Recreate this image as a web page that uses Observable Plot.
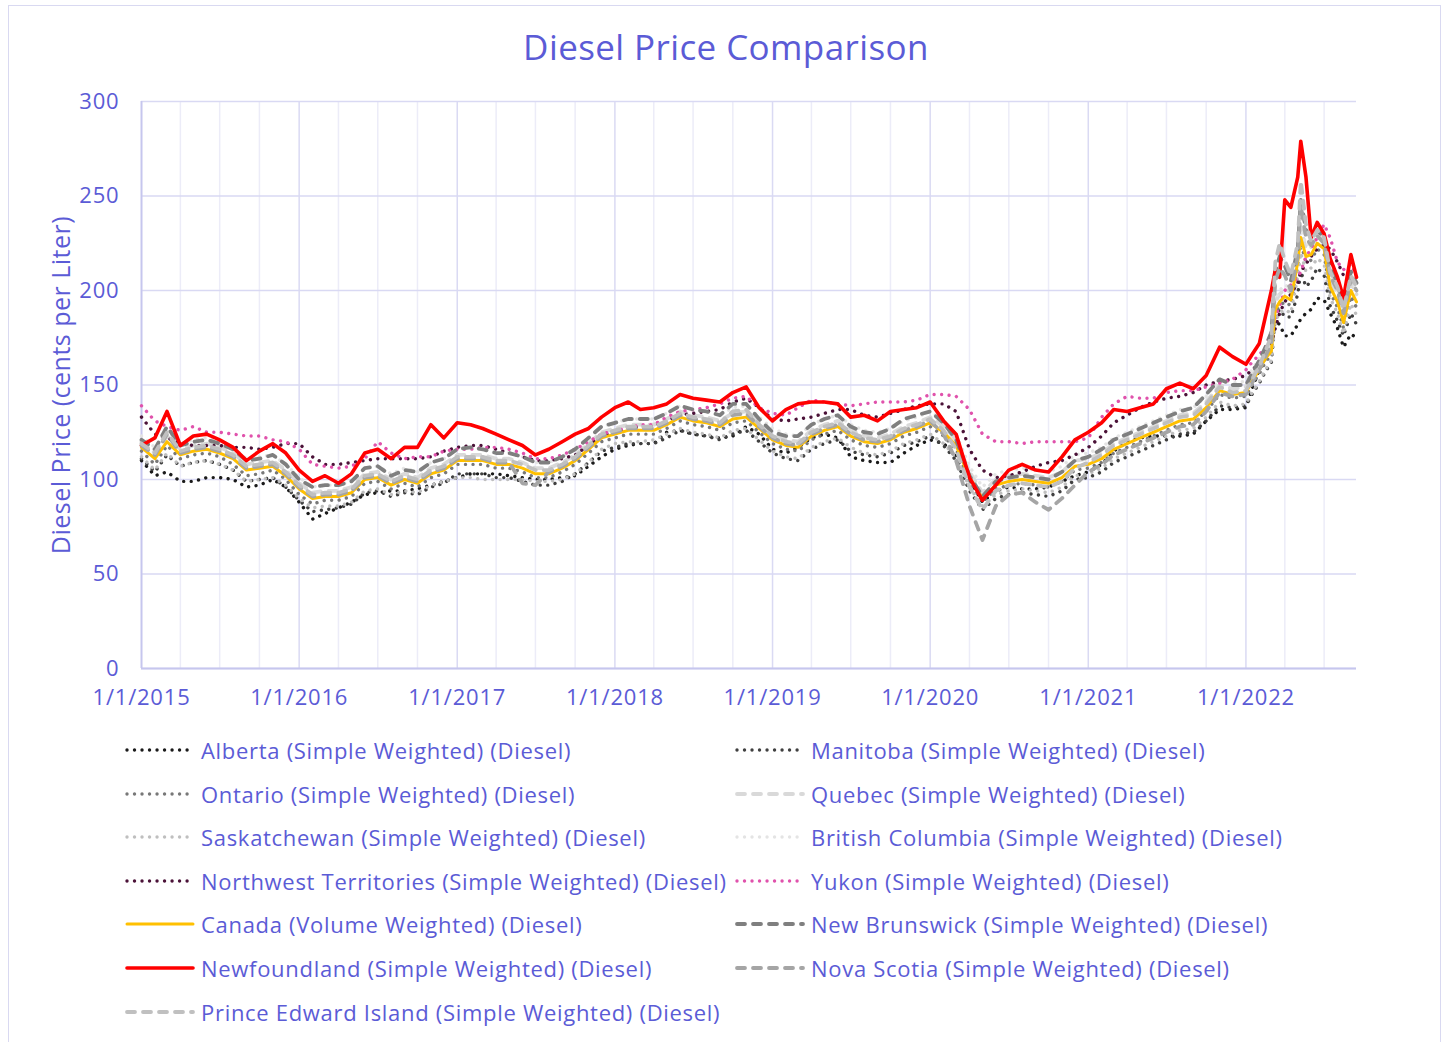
<!DOCTYPE html>
<html><head><meta charset="utf-8">
<script src="https://cdn.jsdelivr.net/npm/d3@7"></script>
<script src="https://cdn.jsdelivr.net/npm/@observablehq/plot@0.6"></script>
<style>
body{margin:0;background:#fff;font-family:"Open Sans",sans-serif;}
#wrap{position:relative;width:1447px;height:1042px;overflow:hidden;background:#fff;}
#frame{position:absolute;left:8px;top:5px;width:1433px;height:1050px;border:1.5px solid #d9d9f1;box-sizing:border-box;}
#title{position:absolute;left:0;width:1452px;top:23px;text-align:center;font-size:35px;letter-spacing:0.4px;line-height:48px;color:#5b5bd6;}
#ylabel{position:absolute;left:60px;top:385px;transform:translate(-50%,-50%) rotate(-90deg);white-space:nowrap;font-size:25px;letter-spacing:0.5px;color:#5b5bd6;}
#chart{position:absolute;left:0;top:85px;}
#chart svg text{letter-spacing:0.8px;}
.item{position:absolute;display:flex;align-items:center;height:30px;font-size:22px;letter-spacing:0.7px;color:#5b5bd6;white-space:nowrap;}
.item svg{margin-right:6px;}
</style></head><body>
<div id="wrap">
<div id="frame"></div>
<div id="title">Diesel Price Comparison</div>
<div id="ylabel">Diesel Price (cents per Liter)</div>
<div id="chart"></div>
<div id="legend"></div>
</div>
<script>
// ---- DATA ----
const monthlyDates = d3.utcMonth.range(new Date(Date.UTC(2015,0,1)), new Date(Date.UTC(2022,0,1)));
const dates2022 = ["2022-01-01","2022-01-15","2022-02-01","2022-02-15","2022-03-01","2022-03-10","2022-03-20","2022-04-01","2022-04-15","2022-05-01","2022-05-08","2022-05-20","2022-06-01","2022-06-15","2022-07-01","2022-07-15","2022-08-01","2022-08-15","2022-09-01","2022-09-14"];
const yTickValues = [0,50,100,150,200,250,300];
const yearTickLabels = ["1/1/2015","1/1/2016","1/1/2017","1/1/2018","1/1/2019","1/1/2020","1/1/2021","1/1/2022"];

const seriesNames = [
 "Alberta (Simple Weighted) (Diesel)","Manitoba (Simple Weighted) (Diesel)",
 "Ontario (Simple Weighted) (Diesel)","Quebec (Simple Weighted) (Diesel)",
 "Saskatchewan (Simple Weighted) (Diesel)","British Columbia (Simple Weighted) (Diesel)",
 "Northwest Territories (Simple Weighted) (Diesel)","Yukon (Simple Weighted) (Diesel)",
 "Canada (Volume Weighted) (Diesel)","New Brunswick (Simple Weighted) (Diesel)",
 "Newfoundland (Simple Weighted) (Diesel)","Nova Scotia (Simple Weighted) (Diesel)",
 "Prince Edward Island (Simple Weighted) (Diesel)"];

const alberta = [
110,102,104,99,99,101,101,100,96,97,100,96,
88,79,82,85,88,92,93,94,94,95,97,99,
101,103,103,103,102,101,100,100,101,102,107,112,
116,118,119,119,125,126,124,123,122,123,128,124,
116,114,117,122,124,122,112,110,109,109,114,118,
121,119,113,100,88,94,96,95,95,96,99,102,
104,108,115,120,122,123,123,123,124,131,137,137,
138,148,158,164,175,184,182,176,176,182,185,188,190,196,195,188,180,170,177,175];
const manitoba = [
111,104,113,107,109,110,108,105,99,100,101,96,
89,83,84,85,87,93,94,91,93,92,96,98,
103,103,103,101,101,99,97,97,99,103,109,115,
117,119,119,119,122,126,124,123,121,124,126,120,
114,111,110,116,119,121,115,113,112,114,118,120,
123,118,110,94,84,90,92,93,92,91,94,100,
101,104,109,112,115,118,121,124,125,131,139,138,
139,145,151,157,162,186,190,186,186,198,210,202,205,212,208,192,184,176,188,182];
const ontario = [
115,108,118,111,113,114,112,108,102,103,105,100,
92,87,89,89,91,98,99,95,98,96,101,103,
108,108,108,106,106,104,101,101,104,108,114,120,
122,124,124,124,127,131,129,128,126,130,131,125,
119,116,115,121,124,126,121,118,117,119,123,125,
128,123,116,99,88,95,97,98,97,96,99,105,
106,109,114,117,120,123,126,129,130,136,145,143,
144,150,156,162,166,188,192,194,192,212,225,215,216,222,219,199,191,180,197,191];
const quebec = [
120,114,123,116,118,119,117,114,108,109,110,105,
98,93,94,94,96,103,104,100,103,101,106,108,
113,113,113,111,111,109,106,106,109,113,119,125,
127,129,129,129,132,136,134,133,131,135,136,130,
124,121,120,126,129,131,126,123,122,124,128,130,
133,128,121,104,93,100,102,103,102,101,104,110,
111,114,119,122,125,128,131,134,135,141,150,148,
149,155,161,167,172,194,198,201,199,219,233,222,223,229,226,206,198,187,204,198];
const saskatchewan = [
112,105,114,107,109,110,108,105,99,100,101,97,
90,85,86,86,88,94,95,92,94,93,97,99,
101,101,100,100,100,100,99,99,100,103,109,116,
119,120,120,121,124,127,125,124,122,126,127,121,
115,112,111,117,120,122,117,114,113,115,119,121,
124,119,112,96,86,92,94,95,94,93,96,102,
103,106,111,114,117,120,123,126,127,133,141,139,
140,146,152,158,163,184,188,190,188,207,220,210,212,217,214,196,188,177,193,187];
const britishColumbia = [
123,117,126,119,121,122,120,117,111,112,113,108,
101,96,97,97,99,106,107,103,106,104,109,111,
116,116,116,114,114,112,109,109,112,116,122,128,
130,132,132,132,135,139,137,136,134,138,139,133,
127,124,123,129,132,134,129,126,125,127,131,133,
136,131,124,107,96,103,105,106,105,104,107,113,
114,117,122,125,128,131,134,137,138,144,153,151,
152,158,164,170,174,196,200,203,201,221,234,224,225,231,228,208,200,189,206,200];
const northwestTerritories = [
133,124,122,119,118,118,118,117,117,116,117,119,
119,112,108,108,109,110,111,111,111,111,112,115,
117,118,118,116,114,112,110,110,111,113,118,123,
125,127,128,128,131,134,135,136,137,141,143,138,
132,131,132,133,135,137,137,134,133,135,137,139,
140,140,136,116,105,101,102,104,107,109,110,113,
117,123,130,134,138,141,143,144,146,150,152,153,
155,158,161,166,172,180,188,194,198,204,210,214,218,222,224,222,215,208,206,204];
const yukon = [
139,131,128,126,128,125,125,124,123,123,121,120,
116,108,107,106,107,111,120,114,111,112,112,115,
116,116,117,117,116,114,111,111,113,116,120,124,
126,127,129,129,133,136,137,138,140,143,144,138,
135,134,138,142,141,140,139,140,141,141,141,142,
145,145,144,137,124,120,120,119,120,120,120,120,
122,133,140,144,143,143,146,147,147,149,151,153,
158,162,166,170,178,186,192,200,203,207,210,218,222,228,235,228,215,211,214,208];
const canada = [
117,111,120,113,115,116,114,111,105,106,107,102,
95,90,91,91,93,100,101,97,100,98,103,105,
110,110,110,108,108,106,103,103,106,110,116,122,
124,126,126,126,129,133,131,130,128,132,133,127,
121,118,117,123,126,128,123,120,119,121,125,127,
130,125,118,101,90,97,99,100,99,98,101,107,
108,111,116,119,122,125,128,131,132,138,147,145,
146,152,158,164,168,190,194,197,195,215,228,218,219,225,222,202,194,183,200,194];
const newBrunswick = [
121,116,128,118,120,121,119,116,110,111,113,108,
100,96,97,97,99,106,107,102,105,104,109,111,
116,117,116,114,114,112,109,109,112,116,122,128,
130,132,132,132,135,139,137,136,134,140,140,132,
125,123,123,129,132,134,128,125,124,127,132,134,
136,130,121,102,91,99,101,102,101,100,104,110,
112,116,121,124,127,130,133,136,138,145,153,150,
150,156,163,170,178,210,218,213,205,222,248,232,228,232,228,212,204,192,210,204];
const newfoundland = [
118,122,136,118,123,124,121,117,110,115,119,114,
105,99,102,98,103,114,116,111,117,117,129,122,
130,129,127,124,121,118,113,116,120,124,127,133,
138,141,137,138,140,145,143,142,141,146,149,138,
131,137,140,141,141,140,133,134,131,136,137,138,
141,131,124,101,89,97,105,108,105,104,112,121,
125,130,137,136,138,140,148,151,148,155,170,165,
161,166,172,186,200,211,207,248,244,260,279,260,228,236,230,217,207,196,219,207];
const novaScotia = [
118,113,124,114,116,117,115,112,106,107,108,103,
96,91,92,92,94,101,102,98,101,99,104,106,
111,111,111,109,109,98,97,104,107,111,117,123,
125,127,127,127,130,134,132,131,129,134,135,128,
122,119,118,124,127,129,124,121,120,122,126,128,
131,124,110,86,68,86,92,93,88,84,90,97,
104,108,113,116,119,122,125,128,129,136,146,144,
145,151,158,165,172,205,212,208,200,218,245,228,224,229,225,208,200,188,206,200];
const princeEdwardIsland = [
119,114,125,115,117,118,116,113,107,108,109,104,
97,92,93,93,95,102,103,99,102,100,105,107,
112,112,112,110,110,108,105,105,108,112,118,124,
126,128,128,128,131,135,133,132,130,136,137,129,
123,120,119,125,128,130,125,122,121,123,127,129,
132,126,116,96,84,94,97,98,97,96,99,106,
109,113,118,121,124,127,130,133,134,140,149,146,
147,153,160,168,176,215,225,216,208,225,258,235,226,232,228,210,202,190,208,202];

const seriesValues = [alberta, manitoba, ontario, quebec, saskatchewan, britishColumbia,
  northwestTerritories, yukon, canada, newBrunswick, newfoundland, novaScotia, princeEdwardIsland];

// ---- STYLES ----
const DOT = "0.01 7.5", DASH = "8 8";
const styles = [
 {stroke:"#1a1a1a", dash:DOT, w:3.4},
 {stroke:"#404040", dash:DOT, w:3.4},
 {stroke:"#787878", dash:DOT, w:3.4},
 {stroke:"#d9d9d9", dash:DASH, w:3.8},
 {stroke:"#bfbfbf", dash:DOT, w:3.4},
 {stroke:"#e4e4e4", dash:DOT, w:3.4},
 {stroke:"#4b1238", dash:DOT, w:3.4},
 {stroke:"#e052ac", dash:DOT, w:3.4},
 {stroke:"#ffc000", dash:null, w:3},
 {stroke:"#7f7f7f", dash:DASH, w:3.8},
 {stroke:"#ff0000", dash:null, w:3.6},
 {stroke:"#a5a5a5", dash:DASH, w:3.8},
 {stroke:"#c0c0c0", dash:DASH, w:3.8}
];

const allDates = monthlyDates.concat(dates2022.map(s => new Date(s + "T00:00:00Z")));
const rows = [];
seriesNames.forEach((name, i) => {
  seriesValues[i].forEach((v, j) => rows.push({name, date: allDates[j], value: v}));
});

const yearTicks = d3.utcYear.range(new Date(Date.UTC(2015,0,1)), new Date(Date.UTC(2022,1,1)));
const minorTicks = d3.utcMonth.every(3).range(new Date(Date.UTC(2015,0,1)), new Date(Date.UTC(2022,8,14)))
  .filter(d => d.getUTCMonth() !== 0);
const xEnd = new Date(Date.UTC(2022,8,14));

const lineMarks = seriesNames.map((name, i) => Plot.lineY(rows.filter(r => r.name === name), {
  x: "date", y: "value", stroke: styles[i].stroke, strokeWidth: styles[i].w,
  strokeDasharray: styles[i].dash || undefined, strokeLinecap: "round", strokeLinejoin: "round"
}));

const chart = Plot.plot({
  width: 1447, height: 640,
  marginLeft: 141, marginRight: 91, marginTop: 16, marginBottom: 57,
  style: {fontFamily: "'Open Sans', sans-serif", fontSize: "22px", color: "#5b5bd6", background: "transparent", overflow: "visible"},
  x: {type: "utc", domain: [new Date(Date.UTC(2015,0,1)), xEnd]},
  y: {domain: [0, 300]},
  marks: [
    Plot.ruleX(minorTicks, {stroke: "#ececf8", strokeWidth: 1.5}),
    Plot.ruleX(yearTicks, {stroke: "#dadaf3", strokeWidth: 1.5}),
    Plot.ruleY(yTickValues, {stroke: "#d9d9f3", strokeWidth: 1.5}),
    Plot.ruleX([new Date(Date.UTC(2015,0,1))], {stroke: "#c6c6ee", strokeWidth: 1.8}),
    Plot.ruleY([0], {stroke: "#c6c6ee", strokeWidth: 2}),
    ...lineMarks,
    Plot.axisX({ticks: yearTicks, tickFormat: (d, i) => yearTickLabels[i], tickSize: 0, tickPadding: 21, fontSize: 22, label: null, fill: "#5b5bd6"}),
    Plot.axisY({ticks: yTickValues, tickSize: 0, tickPadding: 22, fontSize: 22, label: null, fill: "#5b5bd6"})
  ]
});
document.getElementById("chart").appendChild(chart);

// ---- LEGEND ----
const legend = document.getElementById("legend");
const colX = [125, 735], rowY0 = 750, rowStep = 43.6;
seriesNames.forEach((name, i) => {
  const col = i % 2, row = Math.floor(i / 2);
  const it = document.createElement("div");
  it.className = "item";
  it.style.left = colX[col] + "px";
  it.style.top = (rowY0 + row * rowStep - 15) + "px";
  const s = styles[i];
  it.innerHTML = `<svg width="70" height="12"><line x1="2" y1="6" x2="68" y2="6" stroke="${s.stroke}" stroke-width="${s.w}" stroke-linecap="round" ${s.dash ? `stroke-dasharray="${s.dash}"` : ""}/></svg><span>${name}</span>`;
  legend.appendChild(it);
});
</script>
</body></html>
